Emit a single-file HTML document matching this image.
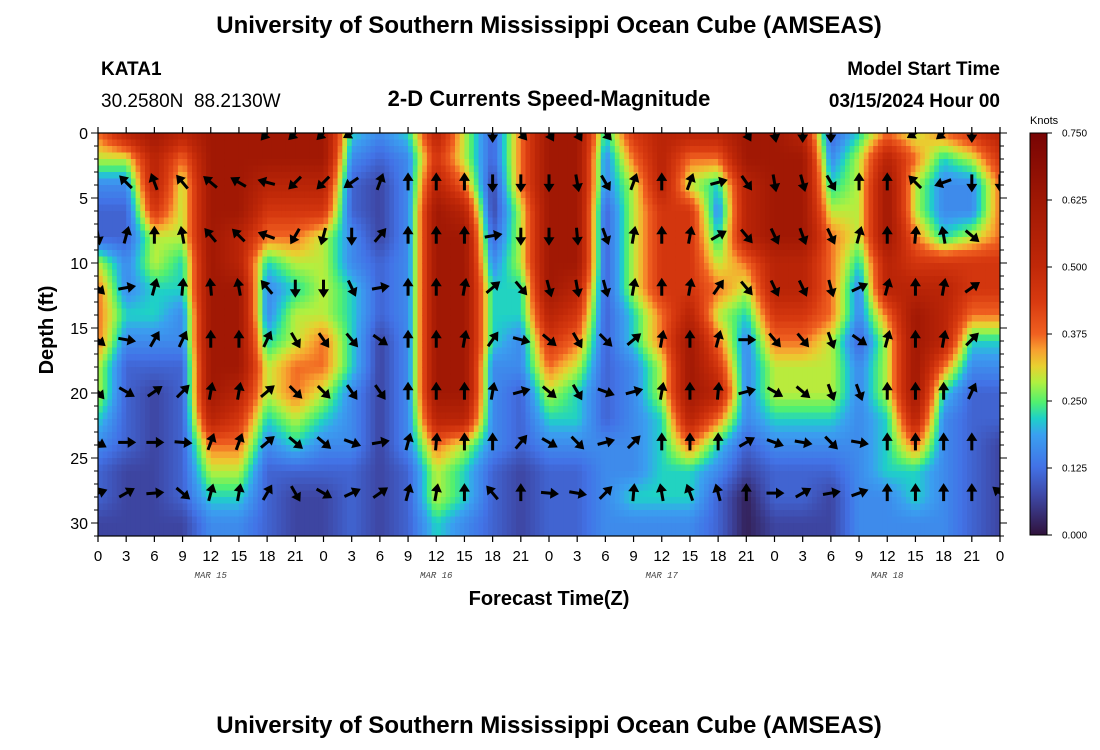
<!DOCTYPE html>
<html><head><meta charset="utf-8"><style>
body{margin:0;background:#fff;}
svg{display:block;font-family:"Liberation Sans",sans-serif;}
</style></head><body>
<svg id="chart" width="1100" height="750" viewBox="0 0 1100 750">
<defs>
<clipPath id="plotclip"><rect x="98" y="133" width="902" height="403"/></clipPath>
<linearGradient id="cbar" x1="0" y1="1" x2="0" y2="0">
<stop offset="0" stop-color="#30123b"/><stop offset="0.1" stop-color="#3e49a8"/><stop offset="0.17" stop-color="#4272e6"/><stop offset="0.25" stop-color="#3aa0f0"/><stop offset="0.29" stop-color="#1ed0c8"/><stop offset="0.33" stop-color="#50f070"/><stop offset="0.38" stop-color="#b0f040"/><stop offset="0.42" stop-color="#e8d030"/><stop offset="0.46" stop-color="#f8a030"/><stop offset="0.5" stop-color="#f06020"/><stop offset="0.58" stop-color="#d83a10"/><stop offset="0.67" stop-color="#c02808"/><stop offset="0.83" stop-color="#a01804"/><stop offset="1" stop-color="#780404"/>
</linearGradient>
</defs>
<text x="549" y="33" text-anchor="middle" font-size="24" font-weight="bold">University of Southern Mississippi Ocean Cube (AMSEAS)</text>
<text x="101" y="75" font-size="19" font-weight="bold">KATA1</text>
<text x="101" y="107" font-size="19" xml:space="preserve">30.2580N  88.2130W</text>
<text x="549" y="106" text-anchor="middle" font-size="22" font-weight="bold">2-D Currents Speed-Magnitude</text>
<text x="1000" y="75" text-anchor="end" font-size="19" font-weight="bold">Model Start Time</text>
<text x="1000" y="107" text-anchor="end" font-size="19" font-weight="bold">03/15/2024 Hour 00</text>
<g clip-path="url(#plotclip)"><g id="cells"></g></g>
<g id="arrows" clip-path="url(#plotclip)"></g>
<rect x="98" y="133" width="902" height="403" fill="none" stroke="#000" stroke-width="1.2"/>
<g id="axes"></g>
<text x="549" y="605" text-anchor="middle" font-size="20" font-weight="bold">Forecast Time(Z)</text>
<text transform="translate(53,330) rotate(-90)" text-anchor="middle" font-size="20" font-weight="bold">Depth (ft)</text>
<rect x="1030" y="133" width="17" height="402" fill="url(#cbar)" stroke="#000" stroke-width="1"/>
<text x="1030" y="124" font-size="11">Knots</text>
<g id="cbticks"></g>
<text x="549" y="733" text-anchor="middle" font-size="24" font-weight="bold">University of Southern Mississippi Ocean Cube (AMSEAS)</text>
</svg>
<script>
const timeHours=[0,3,6,9,12,15,18,21,24,27,30,33,36,39,42,45,48,51,54,57,60,63,66,69,72,75,78,81,84,87,90,93,96];
const depthsFt=[0,2,4,6,8,10,12,14,16,18,20,22,24,26,28,30];
const levelKnots=[0.02,0.07,0.11,0.16,0.22,0.29,0.37,0.45,0.53,0.62];
const speedLevel=[
[6,8,9,8,9,9,9,9,9,4,3,4,8,5,2,6,9,9,4,7,8,8,8,9,9,8,2,4,6,5,6,7,8],
[5,5,8,6,9,9,9,9,9,3,2,3,7,5,2,6,9,9,3,6,8,6,6,9,9,9,3,5,8,6,4,5,7],
[3,3,8,5,9,9,8,8,8,2,1,3,8,6,1,6,9,9,3,5,8,5,4,8,9,9,4,5,9,5,3,3,6],
[2,2,7,5,9,9,7,7,7,2,1,3,9,8,1,5,9,9,2,5,7,7,3,8,9,9,5,5,9,5,3,3,6],
[2,2,5,5,9,8,6,6,5,3,1,3,9,9,2,5,9,9,2,5,7,7,4,8,9,9,6,5,9,6,4,5,6],
[5,3,5,4,9,8,4,5,5,3,2,3,9,9,3,5,9,9,2,5,7,7,5,6,8,8,6,4,8,7,7,7,7],
[6,3,4,4,9,9,3,4,5,4,2,3,9,9,4,4,9,8,2,5,7,7,6,5,8,8,6,3,8,8,8,7,7],
[6,4,4,3,9,9,3,5,5,4,2,3,9,9,4,4,8,7,2,4,6,8,5,4,7,7,6,3,6,9,8,6,6],
[6,3,3,3,9,9,4,5,6,4,1,3,9,9,4,3,7,6,2,4,6,9,6,3,6,6,5,2,5,9,8,4,4],
[5,2,2,2,9,9,5,6,6,4,1,3,9,9,3,3,6,5,2,3,5,9,7,3,5,5,5,3,5,9,6,3,3],
[5,2,1,2,9,8,5,6,5,3,1,3,9,9,3,2,5,4,2,3,5,9,8,3,5,5,5,3,5,9,4,2,2],
[4,2,1,2,8,7,4,5,4,3,1,3,8,8,3,2,4,4,2,3,4,8,6,3,4,4,4,3,4,8,3,2,2],
[3,2,1,2,6,6,3,4,3,3,1,3,6,5,3,2,3,3,3,3,4,6,4,2,3,3,3,3,4,6,3,2,1],
[2,1,1,2,5,5,2,2,2,2,1,2,5,4,2,1,2,2,3,3,4,4,3,1,2,2,2,3,4,4,3,2,1],
[2,1,1,2,4,4,2,1,1,2,1,2,5,4,2,1,2,2,3,4,4,4,2,0,2,2,1,3,3,4,3,2,1],
[1,1,1,1,3,3,2,1,1,2,1,2,4,3,2,1,2,2,3,3,3,3,2,0,1,1,1,3,3,3,3,2,1]];
const arrowDepths=[0,3.8,7.9,11.9,15.9,19.9,23.8,27.7];
const N=null;
const arrowDir=[
[N,N,N,N,N,N,220,225,225,240,N,N,N,N,180,140,150,150,140,N,N,N,N,150,170,180,180,N,N,240,230,180,N],
[N,315,340,320,310,300,285,225,225,235,20,0,0,0,180,180,180,170,150,20,0,20,75,145,170,165,150,0,0,315,250,180,180],
[170,15,0,350,320,315,290,210,195,180,40,0,0,0,80,180,180,175,160,10,0,10,60,140,155,160,155,15,0,5,350,130,N],
[135,80,15,5,355,350,320,180,180,155,80,0,0,10,50,140,165,170,165,10,0,10,35,140,155,155,165,65,15,0,10,55,N],
[130,100,30,25,0,0,25,150,145,140,125,0,0,10,35,105,130,150,135,50,10,0,15,90,140,140,160,125,15,0,10,45,N],
[140,120,55,45,10,10,50,135,135,145,145,0,0,0,10,75,130,150,110,75,10,0,5,75,120,130,160,160,0,0,0,25,N],
[120,90,90,95,20,20,50,130,130,110,80,15,5,0,0,40,120,135,75,45,0,0,0,60,110,100,135,100,0,0,0,0,N],
[70,60,85,130,15,10,30,150,120,65,55,15,10,0,320,0,95,100,45,5,350,340,345,0,90,60,80,70,0,0,0,0,310]];
const xTickLabels=["0","3","6","9","12","15","18","21","0","3","6","9","12","15","18","21","0","3","6","9","12","15","18","21","0","3","6","9","12","15","18","21","0"];
const dateLabels=["MAR 15","MAR 16","MAR 17","MAR 18"];
const dateHours=[12,36,60,84];
const yTicks=[0,5,10,15,20,25,30];
const cbTicks=[0,0.125,0.25,0.375,0.5,0.625,0.75];

const NS="http://www.w3.org/2000/svg";
const X0=98,X1=1000,Y0=133,PXFT=13;
const xs=t=>X0+(X1-X0)*t/96;
const ys=d=>Y0+PXFT*d;
const stops=[[0,"#30123b"],[0.1,"#3e49a8"],[0.17,"#4272e6"],[0.25,"#3aa0f0"],[0.29,"#1ed0c8"],[0.33,"#50f070"],[0.38,"#b0f040"],[0.42,"#e8d030"],[0.46,"#f8a030"],[0.5,"#f06020"],[0.58,"#d83a10"],[0.67,"#c02808"],[0.83,"#a01804"],[1,"#780404"]];
function hex(h){return [1,3,5].map(i=>parseInt(h.substr(i,2),16));}
function color(v){let f=Math.max(0,Math.min(1,v/0.75));for(let i=1;i<stops.length;i++){if(f<=stops[i][0]){const a=stops[i-1],b=stops[i];const u=(f-a[0])/(b[0]-a[0]);const ca=hex(a[1]),cb=hex(b[1]);return "rgb("+ca.map((c,k)=>Math.round(c+(cb[k]-c)*u)).join(",")+")";}}return stops[stops.length-1][1];}
function mk(tag,attrs,parent){const e=document.createElementNS(NS,tag);for(const k in attrs)e.setAttribute(k,attrs[k]);parent.appendChild(e);return e;}
function knotsAt(r,c){return levelKnots[speedLevel[r][c]];}

const cells=document.getElementById('cells');
const SX=6,SY=4;
for(let r=0;r<depthsFt.length;r++){
  for(let c=0;c<timeHours.length;c++){
    for(let sy=0;sy<SY;sy++){
      for(let sx=0;sx<SX;sx++){
        const fu=(sx+0.5)/SX-0.5, fv=(sy+0.5)/SY-0.5;
        const c2=Math.max(0,Math.min(timeHours.length-1,c+(fu<0?-1:1)));
        const r2=Math.max(0,Math.min(depthsFt.length-1,r+(fv<0?-1:1)));
        const au=Math.abs(fu), av=Math.abs(fv);
        const v=(1-au)*(1-av)*knotsAt(r,c)+au*(1-av)*knotsAt(r,c2)+(1-au)*av*knotsAt(r2,c)+au*av*knotsAt(r2,c2);
        const t0=timeHours[c]-1.5+3*sx/SX, d0=depthsFt[r]-1+2*sy/SY;
        const el=mk('rect',{x:xs(t0).toFixed(1),y:ys(d0).toFixed(1),width:(xs(3/SX)-X0+0.6).toFixed(1),height:(2*PXFT/SY+0.6).toFixed(1),fill:color(v)},cells);
        
        
      }
    }
  }
}
timeHours.forEach((t,c)=>{
  const el=mk('rect',{x:xs(t-1.5),y:ys(31),width:xs(3)-X0+0.6,height:8,fill:color(knotsAt(depthsFt.length-1,c))},cells);
  
  
});

const arrows=document.getElementById('arrows');
arrowDepths.forEach((d,r)=>{timeHours.forEach((t,c)=>{
  const a=arrowDir[r][c]; if(a===null) return;
  const g=mk('g',{transform:`translate(${xs(t)},${ys(d)}) rotate(${a})`},arrows);
  
  
  mk('line',{x1:0,y1:8,x2:0,y2:-3,stroke:'#000','stroke-width':3},g);
  mk('polygon',{points:'0,-10 -5.5,-1.5 5.5,-1.5',fill:'#000'},g);
});});

const axes=document.getElementById('axes');
timeHours.forEach((t,i)=>{
  const x=xs(t);
  mk('line',{x1:x,y1:536,x2:x,y2:542,stroke:'#000','stroke-width':1.2},axes);
  mk('line',{x1:x,y1:133,x2:x,y2:127,stroke:'#000','stroke-width':1.2},axes);
  const tl=mk('text',{x:x,y:561,'text-anchor':'middle','font-size':15},axes);
  tl.textContent=xTickLabels[i];
  
  
});
dateLabels.forEach((s,i)=>{
  const dl=mk('text',{x:xs(dateHours[i]),y:578,'text-anchor':'middle','font-size':9,'font-style':'italic','font-family':'Liberation Mono, monospace',fill:'#444'},axes);
  dl.textContent=s;
  
  
});
for(let d=0;d<=31;d++){
  const y=ys(d),len=d%5===0?7:4;
  mk('line',{x1:X0-len,y1:y,x2:X0,y2:y,stroke:'#000','stroke-width':1},axes);
  mk('line',{x1:X1,y1:y,x2:X1+len,y2:y,stroke:'#000','stroke-width':1},axes);
}
yTicks.forEach(v=>{
  const yl=mk('text',{x:88,y:ys(v)+6,'text-anchor':'end','font-size':16},axes);
  yl.textContent=String(v);
  
  
});
const cbt=document.getElementById('cbticks');
cbTicks.forEach(v=>{
  const y=535-402*v/0.75;
  mk('line',{x1:1047,y1:y,x2:1052,y2:y,stroke:'#000','stroke-width':1},cbt);
  const l=mk('text',{x:1062,y:y+3.5,'font-size':10},cbt);
  l.textContent=v.toFixed(3);
  
  
});
</script>
</body></html>
